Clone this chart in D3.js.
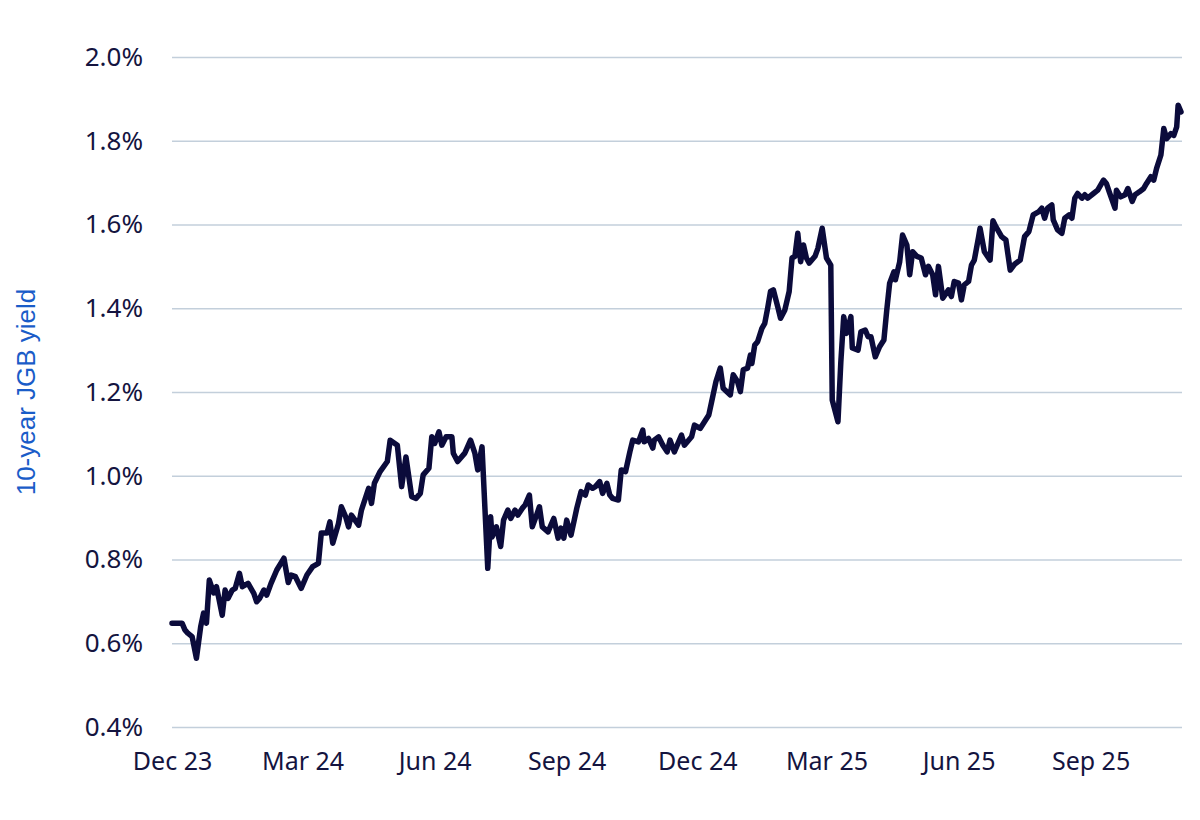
<!DOCTYPE html>
<html>
<head>
<meta charset="utf-8">
<script src="https://cdn.jsdelivr.net/npm/d3@7"></script>
<style>
  html, body { margin: 0; padding: 0; background: #ffffff; }
  svg { display: block; }
</style>
</head>
<body>
<svg id="chart" width="1200" height="820"></svg>
<script>
// ---- data ----
const startDate = "2023-12-01";
const endDate = "2025-11-03";
const xTickDates = ["2023-12-01","2024-03-01","2024-06-01","2024-09-01","2024-12-01","2025-03-01","2025-06-01","2025-09-01"];
const xTickLabels = ["Dec 23","Mar 24","Jun 24","Sep 24","Dec 24","Mar 25","Jun 25","Sep 25"];
const yTicks = [0.4, 0.6, 0.8, 1.0, 1.2, 1.4, 1.6, 1.8, 2.0];
const yTitle = "10-year JGB yield";

// days after startDate
const dayOffsets = [
  0,7,9,11,14,17,20,22,24,26,29,31,35,37,39,42,44,47,49,53,57,59,61,64,66,69,73,78,
  81,83,86,90,94,98,102,104,108,110,112,116,118,121,123,125,130,132,137,139,141,145,150,152,157,160,163,167,170,173,175,179,181,183,186,188,191,195,196,199,204,208,211,213,216,
  220,222,223,226,229,231,234,236,239,241,244,246,249,251,254,256,258,262,266,269,271,273,275,278,282,285,288,290,293,295,298,300,303,305,307,311,313,316,319,321,325,328,329,332,335,336,339,342,
  345,347,350,355,357,362,364,368,374,376,379,382,384,389,391,394,396,398,401,403,404,406,408,411,413,415,417,419,422,424,427,430,432,434,436,438,440,442,444,448,450,453,456,459,
  460,464,466,468,470,473,474,478,480,483,485,487,490,493,496,498,500,503,504,507,509,512,514,516,519,522,525,527,530,532,534,537,541,543,545,548,550,552,555,557,559,562,563,566,570,572,574,578,581,
  584,587,591,594,597,600,604,606,608,610,613,614,617,620,622,625,627,629,631,634,636,638,642,645,649,651,653,657,658,661,664,666,669,671,674,677,679,682,684,686,689,691,693,696,698,700,701,703
];
const yields = [
  0.648,0.648,0.632,0.624,0.616,0.564,0.640,0.672,0.648,0.751,0.720,0.735,0.667,0.727,0.707,0.727,0.731,0.767,0.735,0.743,0.719,0.699,0.707,0.727,0.715,0.743,0.775,0.803,
  0.745,0.763,0.759,0.731,0.763,0.783,0.791,0.863,0.863,0.890,0.839,0.886,0.926,0.902,0.878,0.906,0.882,0.918,0.970,0.934,0.982,1.010,1.034,1.085,1.073,0.974,1.045,0.950,0.946,0.958,1.002,1.018,1.093,1.077,1.105,1.073,1.093,1.093,1.054,1.034,1.054,1.085,1.054,1.014,1.069,
  0.779,0.902,0.854,0.878,0.831,0.894,0.918,0.898,0.918,0.906,0.922,0.930,0.954,0.878,0.906,0.926,0.878,0.866,0.898,0.851,0.875,0.851,0.894,0.858,0.922,0.962,0.954,0.978,0.970,0.974,0.986,0.958,0.982,0.954,0.946,0.942,1.014,1.010,1.057,1.085,1.081,1.109,1.081,1.089,1.066,1.085,1.093,1.073,
  1.057,1.085,1.057,1.097,1.073,1.093,1.121,1.113,1.145,1.177,1.225,1.257,1.209,1.193,1.241,1.225,1.201,1.253,1.257,1.288,1.268,1.312,1.320,1.352,1.364,1.400,1.440,1.444,1.404,1.376,1.396,1.440,1.520,1.524,1.579,1.511,1.551,1.520,1.508,1.524,1.543,1.591,1.520,1.503,
  1.181,1.129,1.272,1.380,1.340,1.380,1.305,1.300,1.344,1.348,1.332,1.332,1.284,1.308,1.324,1.396,1.460,1.487,1.468,1.511,1.575,1.551,1.480,1.535,1.524,1.520,1.480,1.500,1.480,1.432,1.500,1.424,1.444,1.428,1.464,1.460,1.420,1.456,1.464,1.503,1.515,1.571,1.591,1.535,1.515,1.609,1.595,1.571,1.563,
  1.491,1.505,1.515,1.571,1.583,1.623,1.631,1.639,1.615,1.639,1.647,1.611,1.587,1.579,1.615,1.623,1.615,1.663,1.674,1.663,1.671,1.663,1.674,1.682,1.706,1.698,1.678,1.639,1.682,1.666,1.671,1.686,1.655,1.671,1.678,1.686,1.698,1.714,1.706,1.734,1.766,1.829,1.805,1.817,1.813,1.833,1.885,1.869
];

// ---- drawing ----
const parse = d3.utcParse("%Y-%m-%d");
const start = parse(startDate);
const series = dayOffsets.map((d, i) => ({ date: d3.utcDay.offset(start, d), v: yields[i] }));

const svg = d3.select("#chart");
const mLeft = 172, mRight = 1181, mTop = 57, mBottom = 727;

const x = d3.scaleUtc().domain([start, parse(endDate)]).range([mLeft, mRight]);
const y = d3.scaleLinear().domain([0.4, 2.0]).range([mBottom, mTop]);

const textColor = "#14143f";
const gridColor = "#c3cfdb";
const labelFont = "'Noto Sans', sans-serif";

// gridlines + y labels
const yAxis = d3.axisLeft(y).tickValues(yTicks).tickSize(-(mRight + 1 - mLeft)).tickPadding(29)
  .tickFormat(d => d.toFixed(1) + "%");
const gY = svg.append("g").attr("transform", `translate(${mLeft},0)`).call(yAxis);
gY.select(".domain").remove();
gY.selectAll(".tick line").attr("stroke", gridColor).attr("stroke-width", 1.5);
gY.selectAll(".tick text").attr("fill", textColor)
  .style("font-family", labelFont).style("font-size", "26px");

// x axis labels
const xAxis = d3.axisBottom(x).tickValues(xTickDates.map(parse)).tickSize(0).tickPadding(25)
  .tickFormat((d, i) => xTickLabels[i]);
const gX = svg.append("g").attr("transform", `translate(0,${mBottom})`).call(xAxis);
gX.select(".domain").remove();
gX.selectAll(".tick text").attr("fill", textColor)
  .style("font-family", labelFont).style("font-size", "25px");

// y title
svg.append("text")
  .attr("transform", `translate(35,392) rotate(-90)`)
  .attr("text-anchor", "middle")
  .attr("fill", "#1a5cc8")
  .style("font-family", "'Liberation Sans', Arial, sans-serif")
  .style("font-size", "26px")
  .text(yTitle);

// line
const line = d3.line().x(d => x(d.date)).y(d => y(d.v)).curve(d3.curveLinear);
svg.append("path")
  .datum(series)
  .attr("d", line)
  .attr("fill", "none")
  .attr("stroke", "#0b0b3b")
  .attr("stroke-width", 5.5)
  .attr("stroke-linejoin", "round")
  .attr("stroke-linecap", "round");
</script>
</body>
</html>
